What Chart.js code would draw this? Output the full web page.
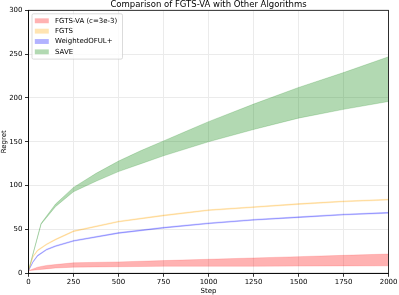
<!DOCTYPE html>
<html>
<head>
<meta charset="utf-8">
<script src="https://cdn.jsdelivr.net/npm/chart.js@4"></script>
<style>
  body { margin: 0; background: #fff; }
  canvas { display: block; }
</style>
</head>
<body>
<canvas id="chart" width="399" height="295"></canvas>
<script>
// x positions (steps) shared by FGTS-VA, FGTS and WeightedOFUL+
const steps = [0, 25, 50, 100, 150, 250, 500, 750, 1000, 1250, 1500, 1750, 2000];

// FGTS-VA (c=3e-3) band
const fgtsvaLow  = [3, 3.5, 4, 5, 6, 7, 7.5, 8, 8, 8, 8.2, 8.4, 8.5];
const fgtsvaHigh = [3, 5, 7, 9, 10, 12, 13, 14.5, 16, 17.5, 19, 20.5, 22];

// FGTS band (very narrow)
const fgtsLow  = [2.8, 18.5, 25.5, 32.5, 38, 47.5, 58.5, 65.5, 71.5, 75, 78.5, 81.5, 83.5];
const fgtsHigh = [3.2, 19.5, 26.5, 33.5, 39, 48.5, 59.5, 66.5, 72.5, 76, 79.5, 82.5, 84.5];

// WeightedOFUL+ band (very narrow)
const woflLow  = [2.8, 12.5, 19.5, 26.5, 30.5, 36.5, 45.5, 51.5, 56.5, 60.5, 63.5, 66.5, 68.5];
const woflHigh = [3.2, 13.5, 20.5, 27.5, 31.5, 37.5, 46.5, 52.5, 57.5, 61.5, 64.5, 67.5, 69.5];

// SAVE band, sampled on its own steps
const saveSteps = [0, 70, 150, 250, 375, 500, 625, 750, 875, 1000, 1250, 1500, 1750, 2000];
const saveLow   = [3, 56, 76, 93, 105, 116, 125, 134, 142, 150, 164, 177, 187, 196];
const saveHigh  = [3, 57, 79, 98, 114, 128, 140, 151, 162, 173, 193, 212, 229, 247];

const legendLabels = ['FGTS-VA (c=3e-3)', 'FGTS', 'WeightedOFUL+', 'SAVE'];
const colors = ['rgba(255,0,0,0.3)', 'rgba(255,165,0,0.3)', 'rgba(0,0,255,0.3)', 'rgba(0,128,0,0.3)'];

const yTicks = [0, 50, 100, 150, 200, 250, 300];
const titleText = 'Comparison of FGTS-VA with Other Algorithms';

const FONT = '"DejaVu Sans", sans-serif';

function pts(xs, ys) {
  return xs.map((x, i) => ({ x: x, y: ys[i] }));
}

function band(xs, lo, hi, color, bw) {
  return [
    { data: pts(xs, lo), borderColor: color, borderWidth: bw, backgroundColor: color,
      pointRadius: 0, fill: false, tension: 0 },
    { data: pts(xs, hi), borderColor: color, borderWidth: bw, backgroundColor: color,
      pointRadius: 0, fill: '-1', tension: 0 }
  ];
}

// title centred over the axes, like matplotlib
const axesTitle = {
  id: 'axesTitle',
  afterDraw(chart) {
    const ctx = chart.ctx;
    const a = chart.chartArea;
    ctx.save();
    ctx.font = '8.5px ' + FONT;
    ctx.fillStyle = '#000';
    ctx.textAlign = 'center';
    ctx.textBaseline = 'middle';
    ctx.fillText(titleText, (a.left + a.right) / 2, 5.2);
    ctx.restore();
  }
};

// matplotlib style legend box inside the axes
const boxLegend = {
  id: 'boxLegend',
  afterDraw(chart) {
    const ctx = chart.ctx;
    const a = chart.chartArea;
    const x = a.left + 3.5, y = a.top + 3.5, w = 90.5, h = 45.3;
    ctx.save();
    ctx.beginPath();
    ctx.roundRect(x, y, w, h, 1.5);
    ctx.fillStyle = 'rgba(255,255,255,0.8)';
    ctx.fill();
    ctx.lineWidth = 0.7;
    ctx.strokeStyle = '#cccccc';
    ctx.stroke();
    ctx.font = '7px ' + FONT;
    ctx.textBaseline = 'middle';
    legendLabels.forEach((lab, i) => {
      const cy = y + 7 + i * 10.35;
      ctx.fillStyle = colors[i];
      ctx.fillRect(x + 2.8, cy - 2.45, 14, 4.9);
      ctx.fillStyle = '#000';
      ctx.fillText(lab, x + 23, cy);
    });
    ctx.restore();
  }
};

// full box around the axes (top / right spines)
const frame = {
  id: 'frame',
  afterDatasetsDraw(chart) {
    const ctx = chart.ctx;
    const a = chart.chartArea;
    ctx.save();
    ctx.strokeStyle = '#000';
    ctx.lineWidth = 0.8;
    ctx.strokeRect(a.left, a.top, a.right - a.left, a.bottom - a.top);
    ctx.restore();
  }
};

const datasets = [].concat(
  band(steps, fgtsvaLow, fgtsvaHigh, colors[0], 0.5),
  band(steps, fgtsLow, fgtsHigh, colors[1], 0.6),
  band(steps, woflLow, woflHigh, colors[2], 0.6),
  band(saveSteps, saveLow, saveHigh, colors[3], 0.6)
);

new Chart(document.getElementById('chart'), {
  type: 'line',
  data: { datasets: datasets },
  options: {
    responsive: false,
    animation: false,
    devicePixelRatio: 1,
    layout: { padding: { left: 0, right: 9, top: 10.3, bottom: 0 } },
    plugins: {
      legend: { display: false },
      tooltip: { enabled: false },
      title: { display: false }
    },
    scales: {
      x: {
        type: 'linear',
        min: 0,
        max: 2000,
        afterFit(s) { s.height = 21.7; },
        ticks: { stepSize: 250, color: '#000', padding: 1.5, maxRotation: 0,
                 font: { family: FONT, size: 7 },
                 callback: v => String(v) },
        grid: { color: '#ebebeb', lineWidth: 1, tickColor: '#000', tickLength: 3.5, tickWidth: 0.8 },
        border: { color: '#000', width: 0.8 },
        title: { display: true, text: 'Step', color: '#000', padding: { top: 0, bottom: 0 },
                 font: { family: FONT, size: 7 } }
      },
      y: {
        type: 'linear',
        min: 0,
        max: 300,
        afterFit(s) { s.width = 28.5; },
        afterBuildTicks(s) { s.ticks = yTicks.map(v => ({ value: v })); },
        ticks: { color: '#000', padding: 2.5, font: { family: FONT, size: 7 },
                 callback: v => String(v) },
        grid: { color: '#ebebeb', lineWidth: 1, tickColor: '#000', tickLength: 3.5, tickWidth: 0.8 },
        border: { color: '#000', width: 0.8 },
        title: { display: true, text: 'Regret', color: '#000', padding: { top: 0, bottom: 0 },
                 font: { family: FONT, size: 7 } }
      }
    }
  },
  plugins: [axesTitle, boxLegend, frame]
});
</script>
</body>
</html>
